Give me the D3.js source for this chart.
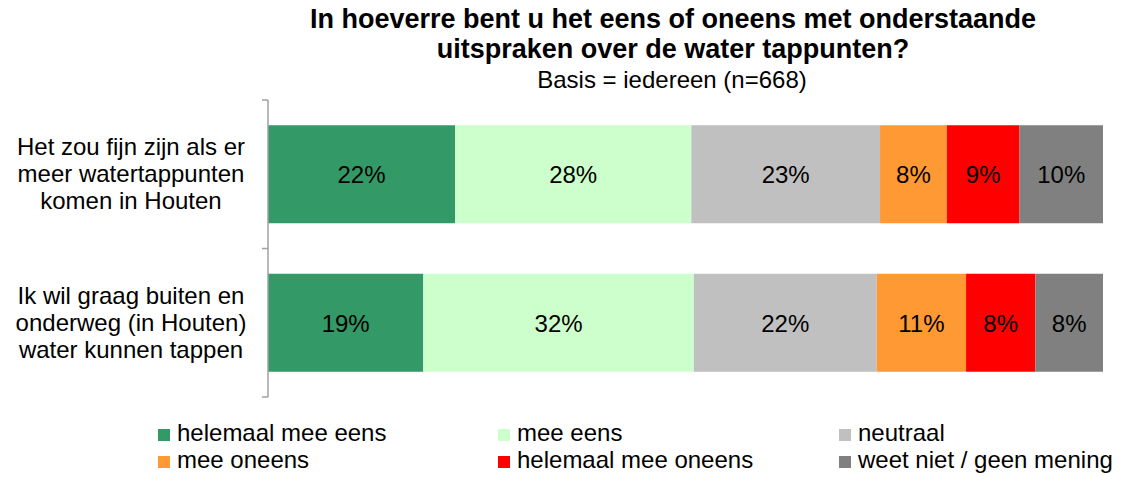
<!DOCTYPE html>
<html>
<head>
<meta charset="utf-8">
<script src="https://cdn.jsdelivr.net/npm/d3@7"></script>
<style>
  body { margin: 0; background: #fff; }
  text { font-family: "Liberation Sans", Arial, sans-serif; fill: #000; }
</style>
</head>
<body>
<div id="chart"></div>
<script>
// Data
let categories = [
    ["Het zou fijn zijn als er", "meer watertappunten", "komen in Houten"],
    ["Ik wil graag buiten en", "onderweg (in Houten)", "water kunnen tappen"]
];
let seriesNames = ["helemaal mee eens", "mee eens", "neutraal", "mee oneens", "helemaal mee oneens", "weet niet / geen mening"];
let seriesColors = ["#339966", "#ccffcc", "#c0c0c0", "#ff9933", "#ff0000", "#808080"];
// percentages per category, in series order
let valuesRow1 = [22.4, 28.3, 22.6, 8.0, 8.7, 10.0];
let valuesRow2 = [18.6, 32.4, 21.9, 10.7, 8.3, 8.1];
let allValues = [valuesRow1, valuesRow2];

let width = 1122;
let height = 477;

let svg = d3.select("#chart")
    .append("svg")
    .attr("width", width)
    .attr("height", height);

// Title
svg.append("text")
    .attr("x", 673).attr("y", 28)
    .attr("text-anchor", "middle")
    .attr("font-size", 27).attr("font-weight", "bold")
    .text("In hoeverre bent u het eens of oneens met onderstaande");
svg.append("text")
    .attr("x", 673).attr("y", 58)
    .attr("text-anchor", "middle")
    .attr("font-size", 27).attr("font-weight", "bold")
    .text("uitspraken over de water tappunten?");
svg.append("text")
    .attr("x", 672).attr("y", 88)
    .attr("text-anchor", "middle")
    .attr("font-size", 24)
    .text("Basis = iedereen (n=668)");

// scales
let x = d3.scaleLinear().domain([0, 100]).range([268, 1103]);
let y = d3.scaleBand()
    .domain(d3.range(categories.length))
    .range([100, 397])
    .paddingInner(0.34)
    .paddingOuter(0.17);

// stacked bars
allValues.forEach(function(vals, i) {
    let start = 0;
    let g = svg.append("g").attr("class", "row");
    vals.forEach(function(v, j) {
        g.append("rect")
            .attr("x", x(start))
            .attr("y", y(i))
            .attr("width", x(start + v) - x(start))
            .attr("height", y.bandwidth())
            .attr("fill", seriesColors[j]);
        g.append("text")
            .attr("x", x(start + v / 2))
            .attr("y", y(i) + y.bandwidth() / 2 + 9)
            .attr("text-anchor", "middle")
            .attr("font-size", 24)
            .text(Math.round(v) + "%");
        start += v;
    });
});

// left axis with ticks between categories
let axisColor = "#a0a0a0";
svg.append("line")
    .attr("x1", 268).attr("x2", 268)
    .attr("y1", y.range()[0]).attr("y2", y.range()[1])
    .attr("stroke", axisColor).attr("stroke-width", 1.5);
let tickYs = [y.range()[0]];
categories.forEach(function(c, i) {
    tickYs.push(y(i) + y.bandwidth() + y.step() * y.paddingInner() / 2);
});
tickYs[tickYs.length - 1] = y.range()[1];
svg.selectAll(".tick")
    .data(tickYs)
    .enter()
    .append("line")
    .attr("x1", 262).attr("x2", 268)
    .attr("y1", function(d) { return d; })
    .attr("y2", function(d) { return d; })
    .attr("stroke", axisColor).attr("stroke-width", 1.5);

// category labels
categories.forEach(function(lines, i) {
    let cy = y(i) + y.bandwidth() / 2;
    lines.forEach(function(line, k) {
        svg.append("text")
            .attr("x", 131)
            .attr("y", cy + (k - 1) * 27 + 8)
            .attr("text-anchor", "middle")
            .attr("font-size", 24)
            .text(line);
    });
});

// legend
let legendX = [158, 498, 839];
let legendY = [441, 468];
seriesNames.forEach(function(name, j) {
    let lx = legendX[j % 3];
    let ly = legendY[Math.floor(j / 3)];
    svg.append("rect")
        .attr("x", lx).attr("y", ly - 12)
        .attr("width", 12).attr("height", 12)
        .attr("fill", seriesColors[j]);
    svg.append("text")
        .attr("x", lx + 19).attr("y", ly)
        .attr("font-size", 24)
        .text(name);
});
</script>
</body>
</html>
